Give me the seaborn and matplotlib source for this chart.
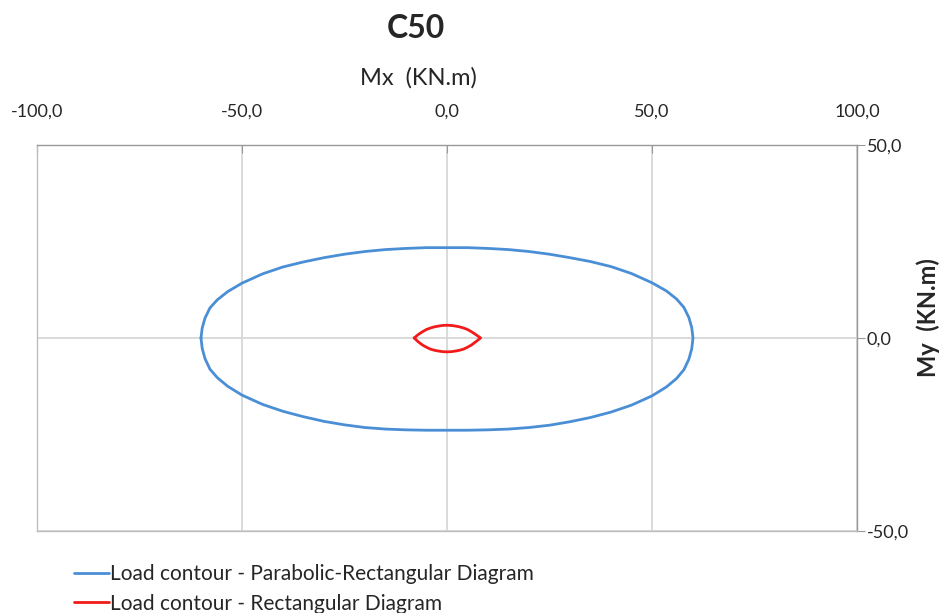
"""
C50 load contour (Mx / My) - parabolic-rectangular vs rectangular diagram.
"""
import pandas as pd
import matplotlib
matplotlib.use("Agg")
import matplotlib.pyplot as plt
from matplotlib.ticker import FuncFormatter
import seaborn as sns

# contour, going round clockwise from the left end
para_mx = [-60.0, -59.7, -59.0, -57.8, -56.0, -53.5, -50.0, -45.0, -40.0, -35.0, -30.0,
           -25.0, -20.0, -15.0, -10.0, -5.0, 0.0, 5.0, 10.0, 15.0, 20.0, 25.0, 30.0,
           35.0, 40.0, 45.0, 50.0, 53.5, 56.0, 57.8, 59.0, 59.7, 60.0,
           59.7, 59.0, 57.8, 56.0, 53.5, 50.0, 45.0, 40.0, 35.0, 30.0, 25.0, 20.0,
           15.0, 10.0, 5.0, 0.0, -5.0, -10.0, -15.0, -20.0, -25.0, -30.0, -35.0,
           -40.0, -45.0, -50.0, -53.5, -56.0, -57.8, -59.0, -59.7, -60.0]
para_my = [0.0, 2.6, 5.2, 7.8, 9.9, 12.0, 14.2, 16.6, 18.4, 19.7, 20.8,
           21.7, 22.4, 22.9, 23.2, 23.4, 23.4, 23.4, 23.2, 22.9, 22.4, 21.7, 20.8,
           19.8, 18.5, 16.7, 14.3, 12.2, 10.1, 7.9, 5.3, 2.7, 0.0,
           -2.8, -5.5, -8.2, -10.5, -12.7, -15.0, -17.4, -19.2, -20.6, -21.7, -22.6, -23.2,
           -23.6, -23.8, -23.9, -23.9, -23.9, -23.8, -23.6, -23.2, -22.5, -21.6, -20.4,
           -19.0, -17.2, -14.8, -12.5, -10.3, -8.1, -5.4, -2.7, 0.0]

rect_mx = [-8.0, -7.0, -6.0, -5.0, -4.0, -3.0, -2.0, -1.0, 0.0, 1.0, 2.0, 3.0, 4.0,
           5.0, 6.0, 7.0, 8.2,
           7.0, 6.0, 5.0, 4.0, 3.0, 2.0, 1.0, 0.0, -1.0, -2.0, -3.0, -4.0, -5.0,
           -6.0, -7.0, -8.0]
rect_my = [0.0, 0.9, 1.6, 2.2, 2.6, 2.9, 3.1, 3.25, 3.3, 3.25, 3.1, 2.9, 2.6,
           2.2, 1.6, 0.9, 0.0,
           -1.0, -1.8, -2.4, -2.9, -3.2, -3.4, -3.55, -3.6, -3.55, -3.4, -3.2, -2.9,
           -2.4, -1.8, -1.0, 0.0]

labels = ["Load contour - Parabolic-Rectangular Diagram",
          "Load contour - Rectangular Diagram"]
colors = ["#4a8fd6", "#f21a1a"]

df = pd.concat([
    pd.DataFrame({"Mx": para_mx, "My": para_my, "serie": labels[0]}),
    pd.DataFrame({"Mx": rect_mx, "My": rect_my, "serie": labels[1]}),
])

sns.set_style("white")
plt.rcParams["font.family"] = ["Lato", "DejaVu Sans"]

fig = plt.figure(figsize=(9.41, 6.13), dpi=100)
ax = fig.add_axes([0.0393, 0.1338, 0.8714, 0.6297])

sns.lineplot(data=df, x="Mx", y="My", hue="serie", palette=colors,
             sort=False, estimator=None, linewidth=2.0, ax=ax, legend=True)

ax.set_xlim(-100, 100)
ax.set_ylim(-50, 50)
ax.set_xticks([-100, -50, 0, 50, 100])
ax.set_yticks([-50, 0, 50])
fmt = FuncFormatter(lambda v, p: f"{v:.1f}".replace(".", ","))
ax.xaxis.set_major_formatter(fmt)
ax.yaxis.set_major_formatter(fmt)
ax.xaxis.tick_top()
ax.yaxis.tick_right()
ax.tick_params(axis="x", direction="in", length=6, color="#999999", labelsize=13, pad=18)
ax.tick_params(axis="y", direction="out", length=6, color="#999999", labelsize=13, pad=1)
ax.grid(True, color="#d4d4d4", linewidth=1.2)
for s in ax.spines.values():
    s.set_color("#bdbdbd")
    s.set_linewidth(1.0)
ax.spines["top"].set_color("#999999")
ax.spines["right"].set_color("#999999")
ax.set_xlabel("")
ax.set_ylabel("")

fig.text(416 / 941, 1 - 28 / 613, "C50", ha="center", va="center", fontsize=23, fontweight="bold")
fig.text(418 / 941, 1 - 78 / 613, "Mx  (KN.m)", ha="center", va="center", fontsize=17)
fig.text(928 / 941, 1 - 318 / 613, "My  (KN.m)", ha="center", va="center", fontsize=17,
         fontweight="bold", rotation=90)

ax.legend(loc="upper left", bbox_to_anchor=(0.035, -0.065), frameon=False, fontsize=15,
          handlelength=1.7, handletextpad=0.05, labelspacing=0.45, borderaxespad=0)

fig.savefig("out.png", dpi=100)
